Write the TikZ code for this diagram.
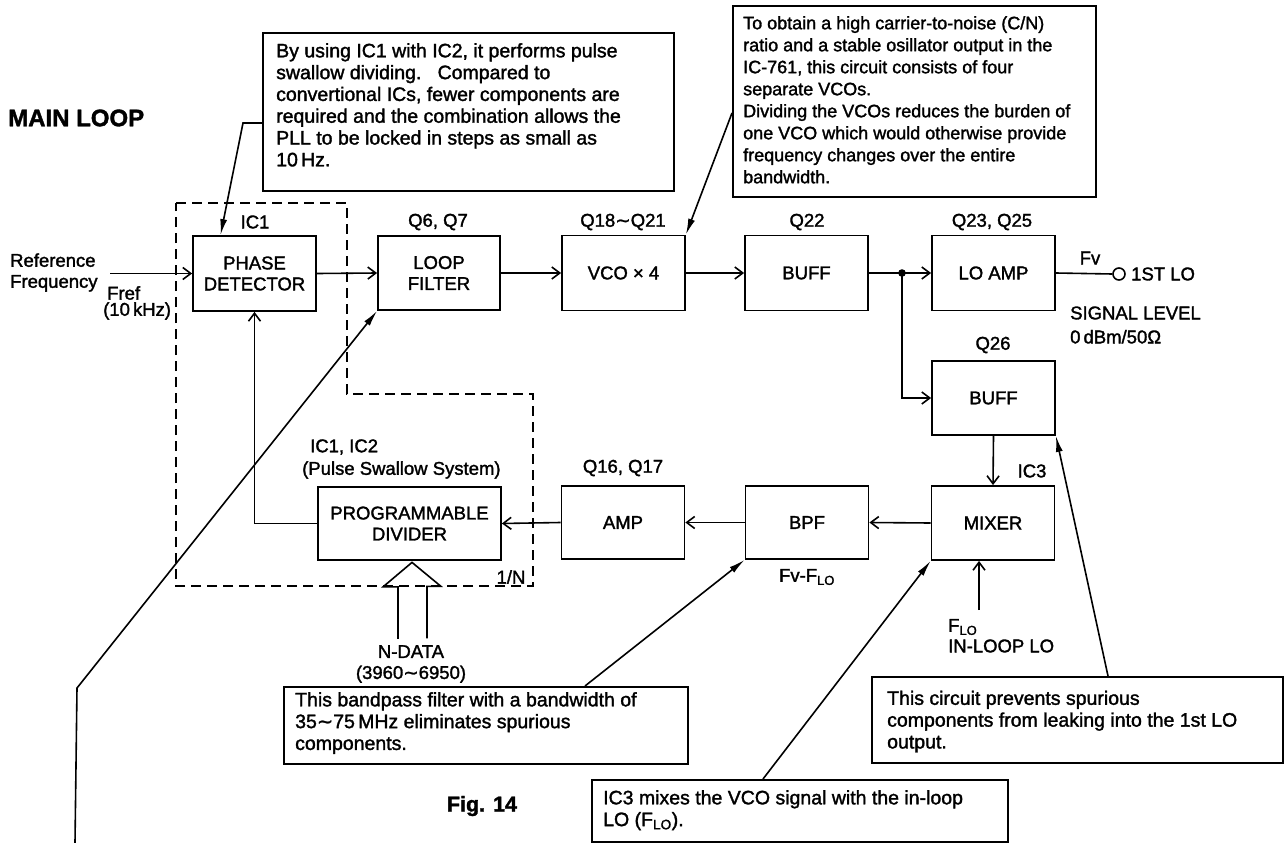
\documentclass[tikz,border=0pt]{standalone}
\usepackage{fontspec}
\setmainfont{Liberation Sans}[FakeBold=1.6]
\newfontfamily\djv{DejaVu Sans}[FakeBold=1.2]
\newcommand\tld{{\djv ∼}}
\usetikzlibrary{arrows.meta,calc}
\begin{document}
\begin{tikzpicture}[x=1pt,y=-1pt,
  blk/.style={draw, line width=1.8pt, minimum width=123pt, minimum height=75pt, align=center, inner sep=0pt, font=\fontsize{18.5}{21}\selectfont},
  lbl/.style={inner sep=0pt, font=\fontsize{18.5}{21}\selectfont},
  flow/.style={line width=1.6pt, -{Straight Barb[length=8pt,width=12pt,line width=1.6pt]}},
  ptr/.style={line width=1.6pt, -{Latex[length=16pt,width=7pt]}},
  cbox/.style={draw, line width=1.8pt, anchor=north west, inner sep=0pt},
  ctext/.style={anchor=north west, inner sep=0pt, align=left, font=\fontsize{19.5}{21.8}\selectfont},
]
\useasboundingbox (0,0) rectangle (1288,843);

% blocks
\node[blk] (pd) at (254.5,273.5) {PHASE\\DETECTOR};
\node[blk, minimum width=122pt, minimum height=74pt] (lf) at (439,273) {LOOP\\FILTER};
\node[blk] (vco) at (623.5,273) {VCO × 4};
\node[blk] (buf1) at (806.5,273) {BUFF};
\node[blk] (loamp) at (993.5,273) {LO AMP};
\node[blk, minimum height=74pt] (buf2) at (993.5,398) {BUFF};
\node[blk, minimum height=74pt] (mix) at (993,523) {MIXER};
\node[blk, minimum height=73pt] (bpf) at (807,522.5) {BPF};
\node[blk, minimum height=73pt] (amp) at (623,522.5) {AMP};
\node[blk, minimum width=183pt, minimum height=73pt] (div) at (409.5,523.5) {PROGRAMMABLE\\DIVIDER};

% dashed IC boundary
\draw[line width=1.4pt, dash pattern=on 10pt off 6pt] (176,203) -- (347,203) -- (347,394) -- (533,394) -- (533,586) -- (176,586) -- cycle;

% labels
\node[lbl] (lic1) at (255,222) {IC1};
\node[lbl] (lq67) at (438,222) {Q6, Q7};
\node[lbl] (lq18) at (623,222) {Q18\tld Q21};
\node[lbl] (lq22) at (807,222) {Q22};
\node[lbl] (lq23) at (992,222) {Q23, Q25};
\node[lbl] (lq26) at (993,345) {Q26};
\node[lbl] (lic3) at (1032,471) {IC3};
\node[lbl, anchor=west] (lic12) at (310,447) {IC1, IC2};
\node[lbl, anchor=west] (lpss) at (302,470) {(Pulse Swallow System)};
\node[lbl] (lq16) at (623,468) {Q16, Q17};
\node[lbl] (l1n) at (511,577) {1/N};
\node[lbl] (lfvflo) at (807,577) {Fv-F\textsubscript{LO}};
\node[lbl, anchor=west] (lflo) at (948,627) {F\textsubscript{LO}};
\node[lbl, anchor=west] (linloop) at (948,646) {IN-LOOP LO};
\node[lbl] (lfv) at (1090,258) {Fv};
\node[lbl, anchor=west] (l1st) at (1131,274) {1ST LO};
\node[lbl, anchor=west, align=left, font=\fontsize{18.5}{24}\selectfont] (lsig) at (1070,325) {SIGNAL LEVEL\\0\,dBm/50Ω};
\node[lbl, anchor=west, align=left] (lref) at (10,272.5) {Reference\\Frequency};
\node[lbl, anchor=west] (lfref) at (107,293) {Fref};
\node[lbl, anchor=west] (l10k) at (103,311) {(10\,kHz)};
\node[lbl, align=center, font=\fontsize{18.5}{21}\selectfont] (lnd) at (411,664) {N-DATA\\(3960\tld 6950)};
\node[inner sep=0pt, anchor=west, font=\bfseries\fontsize{24}{24}\selectfont] (title) at (8,118) {MAIN LOOP};
\node[inner sep=0pt, font=\bfseries\fontsize{21.5}{22}\selectfont] (fig) at (482,806) {Fig. 14};

% flow connectors
\coordinate (refin) at (110,273.5);
\draw[flow] (refin) -- (pd.west);
\draw[flow] (pd.east) -- (lf.west);
\draw[flow] (lf.east) -- (vco.west);
\draw[flow] (vco.east) -- (buf1.west);
\draw[flow] (buf1.east) -- (loamp.west);
\coordinate (j) at (902,273);
\fill (j) circle (3.8pt);
\draw[flow] (j) |- (buf2.west);
\node[draw, circle, minimum size=12pt, inner sep=0pt, line width=1.6pt] (out) at (1119,274) {};
\draw[line width=1.6pt] (loamp.east) -- (out.west);
\draw[flow] (buf2.south) -- (mix.north);
\draw[flow] (mix.west) -- (bpf.east);
\draw[flow] (bpf.west) -- (amp.east);
\draw[flow] (amp.west) -- (div.east);
\draw[flow] (div.west) -| (pd.south);
\coordinate (flo) at (979,610);
\draw[flow] (flo) -- (flo |- mix.south);

% hollow N-DATA arrow
\draw[line width=1.6pt, line join=miter] ($(div.south)+(-11.5,78)$) -- ++(0,-52) -- ++(-15,0) -- ($(div.south)+(2.5,1.5)$) -- ++(29,24) -- ++(-14,0) -- ++(0,52);

% callouts
\node[cbox, minimum width=411pt, minimum height=158pt] (c1) at (262,32) {};
\node[ctext] (t1) at (276,43) {By using IC1 with IC2, it performs pulse\\swallow dividing.\ \ \ Compared to\\convertional ICs, fewer components are\\required and the combination allows the\\PLL to be locked in steps as small as\\10\,Hz.};

\node[cbox, minimum width=363pt, minimum height=191pt] (c2) at (732,5) {};
\node[ctext, font=\fontsize{18}{22}\selectfont] (t2) at (743,16) {To obtain a high carrier-to-noise (C/N)\\ratio and a stable osillator output in the\\IC-761, this circuit consists of four\\separate VCOs.\\Dividing the VCOs reduces the burden of\\one VCO which would otherwise provide\\frequency changes over the entire\\bandwidth.};

\node[cbox, minimum width=404pt, minimum height=77pt] (c3) at (283,686) {};
\node[ctext] (t3) at (295,692) {This bandpass filter with a bandwidth of\\35\tld 75\,MHz eliminates spurious\\components.};

\node[cbox, minimum width=416pt, minimum height=62pt] (c4) at (591,779) {};
\node[ctext] (t4) at (603,790) {IC3 mixes the VCO signal with the in-loop\\LO (F\textsubscript{LO}).};

\node[cbox, minimum width=411pt, minimum height=86pt] (c5) at (871,676) {};
\node[ctext] (t5) at (887,690.5) {This circuit prevents spurious\\components from leaking into the 1st LO\\output.};

% callout pointers
\coordinate (k1) at (243,123);
\draw[ptr] ($(c1.north west)+(0,91)$) -- (k1) -- ($(pd.north)+(-34,0)$);
\draw[ptr] ($(c2.north west)+(0,108)$) -- (vco.north east);
\draw[ptr] ($(c3.north west)+(302,0)$) -- (bpf.south west);
\draw[ptr] ($(c4.north west)+(172,0)$) -- (mix.south west);
\draw[ptr] ($(c5.north west)+(237,0)$) -- (buf2.south east);
\coordinate (lb) at (75,843);
\coordinate (lk) at (77,688);
\draw[ptr] (lb) -- (lk) -- (lf.south west);
\end{tikzpicture}
\end{document}
